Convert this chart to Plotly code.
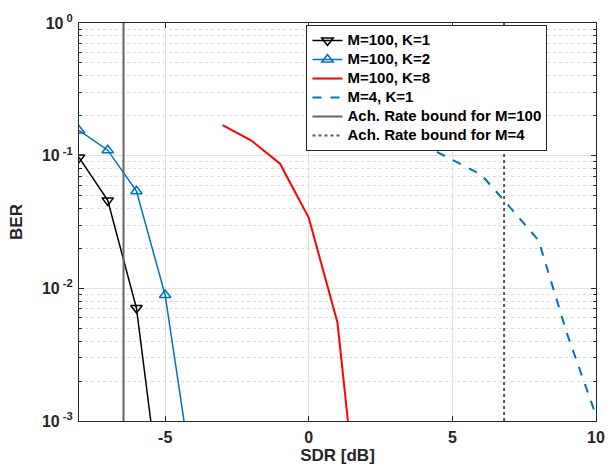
import plotly.graph_objects as go

# Data
sdr_k1 = [-8, -7, -6, -5]
ber_k1 = [0.097, 0.046, 0.0071, 0.00014]

sdr_k2 = [-8, -7, -6, -5, -4]
ber_k2 = [0.155, 0.11, 0.054, 0.0089, 0.00032]

sdr_k8 = [-3, -2, -1, 0, 1, 2]
ber_k8 = [0.17, 0.13, 0.087, 0.034, 0.0055, 0.00005]

sdr_m4 = [1, 2, 3, 4, 5, 6, 7, 8, 9, 10]
ber_m4 = [0.22, 0.19, 0.15, 0.12, 0.093, 0.072, 0.041, 0.023, 0.0045, 0.0011]

bound_m100 = -6.45
bound_m4 = 6.8

x_ticks = [-5, 0, 5, 10]
y_ticks = [1e-3, 1e-2, 1e-1, 1]
y_ticktext = ["10<sup> -3</sup>", "10<sup> -2</sup>", "10<sup> -1</sup>", "10<sup> 0</sup>"]
y_minor = [m * 10**e for e in (-3, -2, -1) for m in range(2, 10)]

FONT = "Liberation Sans, Arial, sans-serif"
BLUE = "#0072BD"
DARK = "#262626"


def leg(name):
    return '<span style="font-size:15px">' + name + '</span>'


fig = go.Figure()
fig.add_trace(go.Scatter(x=sdr_k1, y=ber_k1, mode="lines+markers", name=leg("M=100, K=1"),
                         line=dict(color="black", width=1.5),
                         marker=dict(symbol="triangle-down-open", size=10, color="black",
                                     line=dict(width=1.5))))
fig.add_trace(go.Scatter(x=sdr_k2, y=ber_k2, mode="lines+markers", name=leg("M=100, K=2"),
                         line=dict(color=BLUE, width=1.5),
                         marker=dict(symbol="triangle-up-open", size=10, color=BLUE,
                                     line=dict(width=1.5))))
fig.add_trace(go.Scatter(x=sdr_k8, y=ber_k8, mode="lines", name=leg("M=100, K=8"),
                         line=dict(color="#FF0000", width=2)))
fig.add_trace(go.Scatter(x=sdr_m4, y=ber_m4, mode="lines", name=leg("M=4, K=1"),
                         line=dict(color=BLUE, width=2, dash="dash")))
fig.add_trace(go.Scatter(x=[bound_m100, bound_m100], y=[1e-3, 1], mode="lines",
                         name=leg("Ach. Rate bound for M=100"),
                         line=dict(color="#666666", width=2)))
fig.add_trace(go.Scatter(x=[bound_m4, bound_m4], y=[1e-3, 1], mode="lines",
                         name=leg("Ach. Rate bound for M=4"),
                         line=dict(color="#555555", width=2, dash="dot")))

axis_common = dict(showline=True, linecolor=DARK, linewidth=1, mirror="ticks",
                   ticks="inside", ticklen=5, tickcolor=DARK, automargin=False,
                   gridcolor="#E3E3E3", gridwidth=1, zeroline=False,
                   tickfont=dict(family=FONT, size=16, color=DARK, weight="bold"))

fig.update_xaxes(range=[-8, 10], tickvals=x_ticks, ticktext=[str(v) for v in x_ticks],
                 ticklabelstandoff=2,
                 title=dict(text="SDR [dB]", font=dict(family=FONT, size=17, color=DARK, weight="bold"),
                            standoff=0),
                 **axis_common)
fig.update_yaxes(type="log", range=[-3, 0], tickvals=y_ticks, ticktext=y_ticktext,
                 ticklabelstandoff=2,
                 title=dict(text="BER", font=dict(family=FONT, size=17, color=DARK, weight="bold"),
                            standoff=14),
                 minor=dict(tickvals=y_minor, ticks="inside", ticklen=3, tickcolor=DARK,
                            showgrid=True, gridcolor="#DCDCDC", griddash="dot", gridwidth=1),
                 **axis_common)

fig.update_layout(
    width=611, height=468,
    margin=dict(l=79, r=15, t=23, b=47),
    paper_bgcolor="white", plot_bgcolor="white",
    font=dict(family=FONT, color="black"),
    legend=dict(x=0.44, y=0.995, xanchor="left", yanchor="top",
                bgcolor="white", bordercolor=DARK, borderwidth=1,
                font=dict(family=FONT, size=12, color="black", weight="bold"),
                tracegroupgap=0, itemwidth=30),
    showlegend=True,
)

fig.write_html("out.html", config={"displayModeBar": False},
               post_script="document.body.style.margin='0';document.body.style.overflow='hidden';")
